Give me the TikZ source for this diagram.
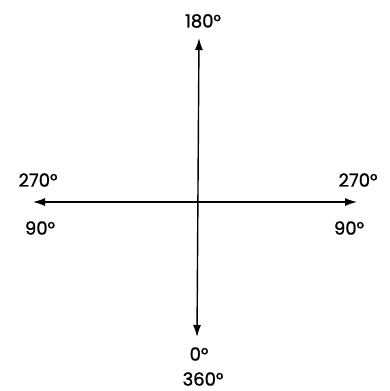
\documentclass[tikz,border=0pt]{standalone}
\usepackage{fontspec}
\newfontfamily\anglefont{Poppins}[FakeBold=1.2]
\usetikzlibrary{arrows.meta}
\tikzstyle{edge}=[draw=black, line width=1.4pt, {Latex[length=12pt,width=8pt]}-{Latex[length=12pt,width=8pt]}]
\tikzstyle{angle}=[inner sep=0pt, font=\anglefont\fontsize{18}{18}\selectfont]

\begin{document}
\begin{tikzpicture}[x=1pt, y=-1pt]
				\useasboundingbox (0, 0) rectangle (389, 391);
				\coordinate (t) at (199, 38);
				\coordinate (b) at (197, 337);
				\coordinate (l) at (33, 202);
				\coordinate (r) at (357, 202);
				\node [style=angle] (180) at (203, 21) {180°};
				\node [style=angle] (270l) at (38, 180) {270°};
				\node [style=angle] (90l) at (40, 228) {90°};
				\node [style=angle] (270r) at (358, 180) {270°};
				\node [style=angle] (90r) at (349, 228) {90°};
				\node [style=angle] (0) at (199, 354) {0°};
				\node [style=angle] (360) at (203, 379) {360°};
				\draw [style=edge] (t) to (b);
				\draw [style=edge] (l) to (r);
			\end{tikzpicture}
\end{document}
